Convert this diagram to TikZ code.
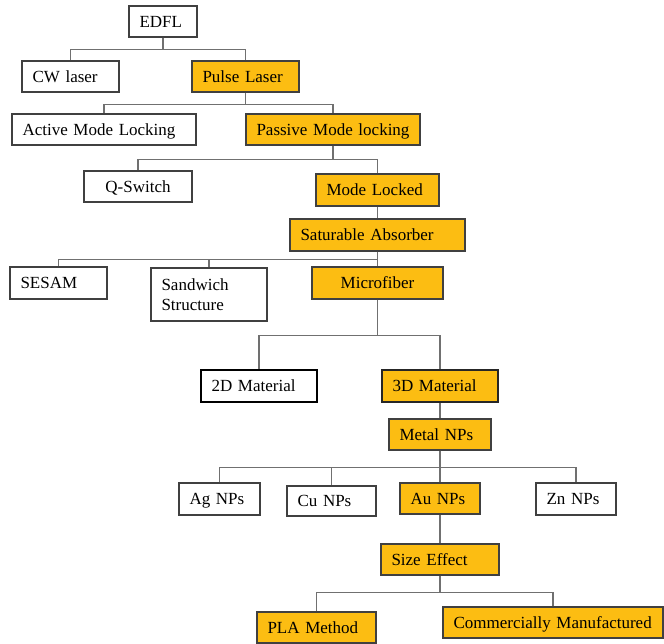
\documentclass[tikz,border=0pt]{standalone}
\usepackage{fontspec}
\setmainfont{Liberation Serif}
\definecolor{orangefill}{RGB}{252,189,18}
\definecolor{bordercol}{RGB}{64,64,64}
\definecolor{linecol}{RGB}{112,112,112}
\tikzset{
  box/.style={draw=bordercol, line width=1.1pt, fill=white, font=\fontsize{17}{20}\selectfont,
    inner xsep=10.5pt, inner ysep=0pt, align=left, anchor=center, text depth=0pt},
  hot/.style={box, fill=orangefill},
  conn/.style={draw=linecol, line width=1.1pt}
}
\begin{document}
\begin{tikzpicture}[x=1pt,y=-1pt]
\useasboundingbox (0,0) rectangle (664,643);
% nodes
\node[box, text width=47pt, minimum height=31pt] (edfl) at (163,21.5) {EDFL};
\node[box, text width=76pt, minimum height=31pt] (cw) at (70.5,76.5) {CW laser};
\node[hot, text width=86pt, minimum height=31pt] (pulse) at (245.5,76.5) {Pulse Laser};
\node[box, text width=163pt, minimum height=31pt] (active) at (104,129.5) {Active Mode Locking};
\node[hot, text width=153pt, minimum height=31pt] (passive) at (333,129.5) {Passive Mode locking};
\node[box, text width=87pt, minimum height=31pt, align=center] (qs) at (138,186.5) {Q-Switch};
\node[hot, text width=102pt, minimum height=32pt] (ml) at (377.5,190) {Mode Locked};
\node[hot, text width=154pt, minimum height=32pt] (sat) at (377.5,235) {Saturable Absorber};
\node[box, text width=76pt, minimum height=32pt] (sesam) at (58.5,283) {SESAM};
\node[box, text depth={}, text width=95pt, minimum height=53pt] (sand) at (209,294.5) {Sandwich\\Structure};
\node[hot, text width=110pt, minimum height=32pt, align=center] (micro) at (377.5,283) {Microfiber};
\node[box, draw=black, line width=1.6pt, text width=95pt, minimum height=32pt] (d2) at (259,386) {2D Material};
\node[hot, draw=black!85, line width=1.6pt, text width=95pt, minimum height=32pt] (d3) at (440,386) {3D Material};
\node[hot, text width=81pt, minimum height=31pt] (metal) at (440,434.5) {Metal NPs};
\node[box, text width=60pt, minimum height=32pt] (ag) at (219.5,499) {Ag NPs};
\node[box, text width=68pt, minimum height=30pt] (cu) at (331.5,501) {Cu NPs};
\node[hot, text width=59pt, minimum height=31pt] (au) at (440,498.5) {Au NPs};
\node[box, text width=59pt, minimum height=32pt] (zn) at (576,499) {Zn NPs};
\node[hot, text width=97pt, minimum height=31pt] (size) at (440,559.5) {Size Effect};
\node[hot, text width=98pt, minimum height=31pt] (pla) at (316.5,627.5) {PLA Method};
\node[hot, text width=199pt, minimum height=31pt] (comm) at (553,622.5) {Commercially Manufactured};
% connectors
\draw[conn] (edfl.south) -- ++(0,12) -| (cw.north);
\draw[conn] (edfl.south) -- ++(0,12) -| (pulse.north);
\draw[conn] (pulse.south) -- ++(0,12) -| (active.north);
\draw[conn] (pulse.south) -- ++(0,12) -| (passive.north);
\draw[conn] (passive.south) -- ++(0,14) -| (qs.north);
\draw[conn] (passive.south) -- ++(0,14) -| (ml.north);
\draw[conn] (ml.south) -- (sat.north);
\draw[conn] (sat.south) -- (micro.north);
\draw[conn] (sat.south) -- ++(0,8) -| (sesam.north);
\draw[conn] (sat.south) -- ++(0,8) -| (sand.north);
\draw[conn] (micro.south) -- ++(0,36) -| (d2.north);
\draw[conn] (micro.south) -- ++(0,36) -| (d3.north);
\draw[conn] (d3.south) -- (metal.north);
\draw[conn] (metal.south) -- ++(0,17) -| (ag.north);
\draw[conn] (metal.south) -- ++(0,17) -| (cu.north);
\draw[conn] (metal.south) -- ++(0,17) -| (au.north);
\draw[conn] (metal.south) -- ++(0,17) -| (zn.north);
\draw[conn] (au.south) -- (size.north);
\draw[conn] (size.south) -- ++(0,17) -| (pla.north);
\draw[conn] (size.south) -- ++(0,17) -| (comm.north);
\end{tikzpicture}
\end{document}
